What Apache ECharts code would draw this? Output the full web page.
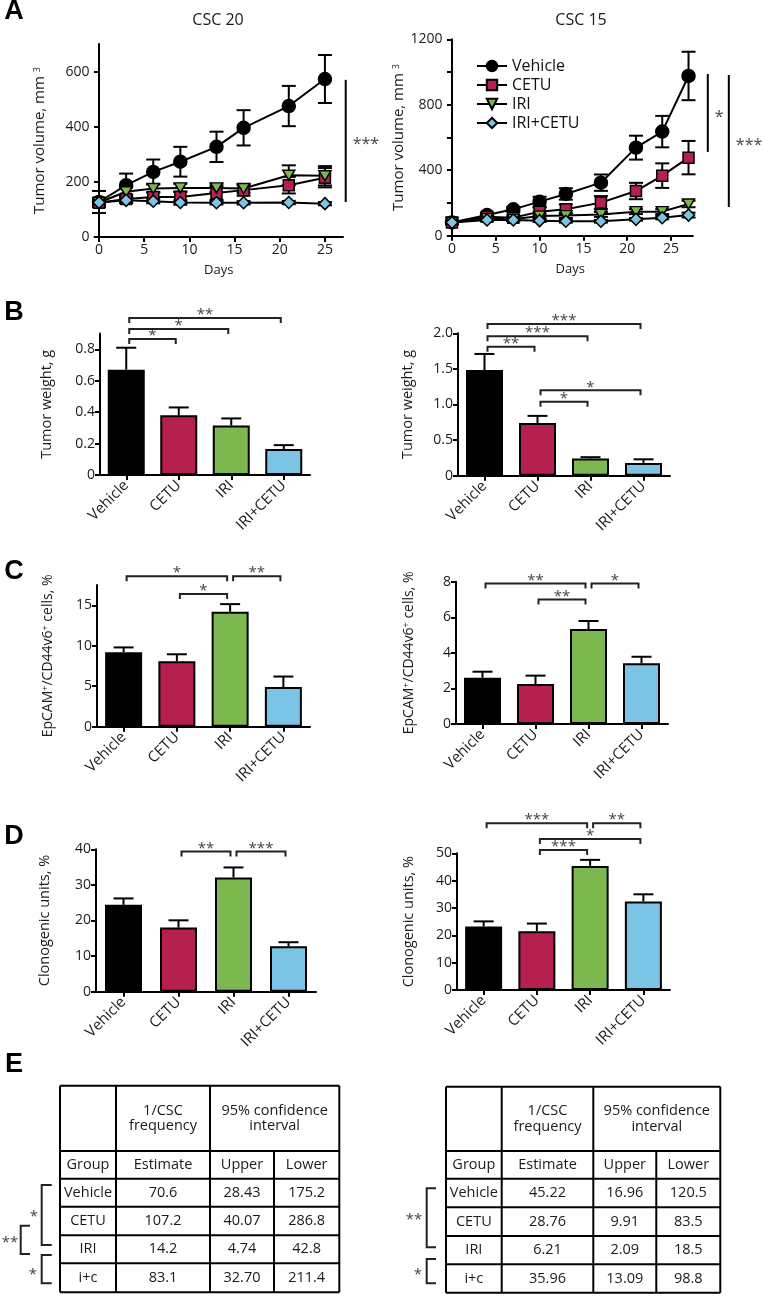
<!DOCTYPE html>
<html><head><meta charset="utf-8">
<script src="https://cdn.jsdelivr.net/npm/echarts@6/dist/echarts.min.js"></script>
<style>html,body{margin:0;padding:0;background:#fff}#c{width:762px;height:1297px}</style>
</head><body><div id="c"></div>
<script>
// ---------- DATA ----------
const groups = ['Vehicle', 'CETU', 'IRI', 'IRI+CETU'];

// Panel A – tumour volume (mm3)
const daysCSC20 = [0, 3, 6, 9, 13, 16, 21, 25];
const volCSC20Vehicle = [127, 188, 236, 273, 327, 396, 475, 573];
const volCSC20Cetu    = [124, 138, 145, 145, 160, 170, 188, 215];
const volCSC20Iri     = [125, 164, 176, 178, 178, 176, 224, 222];
const volCSC20Combo   = [125, 133, 130, 125, 124, 124, 125, 121];
const errCSC20Vehicle = [40, 42, 45, 54, 55, 64, 73, 87];
const errCSC20Cetu    = [15, 15, 18, 20, 25, 20, 30, 35];
const errCSC20Iri     = [10, 15, 15, 15, 15, 15, 36, 35];
const errCSC20Combo   = [8, 8, 8, 8, 6, 6, 6, 6];

const daysCSC15 = [0, 4, 7, 10, 13, 17, 21, 24, 27];
const volCSC15Vehicle = [81, 126, 161, 208, 255, 324, 538, 636, 976];
const volCSC15Cetu    = [81, 116, 110, 147, 161, 202, 273, 367, 477];
const volCSC15Iri     = [81, 105, 100, 120, 123, 130, 147, 147, 194];
const volCSC15Combo   = [81, 96, 96, 92, 88, 88, 100, 110, 126];
const errCSC15Vehicle = [10, 15, 15, 30, 35, 50, 73, 96, 148];
const errCSC15Cetu    = [10, 10, 10, 25, 30, 40, 50, 75, 102];
const errCSC15Iri     = [8, 8, 10, 15, 15, 15, 15, 15, 20];
const errCSC15Combo   = [8, 8, 8, 8, 8, 8, 8, 10, 15];

const sigCSC20 = [[27.3, 127, 570]];            // [day, from, to]
const sigCSC20Labels = ['***'];
const sigCSC15 = [[29.2, 512, 988], [31.6, 175, 982]];
const sigCSC15Labels = ['*', '***'];

// Panel B – tumour weight (g)
const weightCSC20 = [0.67, 0.38, 0.315, 0.165];
const weightErrCSC20 = [0.14, 0.05, 0.045, 0.025];
const weightCSC15 = [1.485, 0.74, 0.24, 0.18];
const weightErrCSC15 = [0.225, 0.10, 0.02, 0.05];
const bracketsB20 = [[0, 1, 0.866], [0, 2, 0.93], [0, 3, 1.0]];
const bracketsB20Labels = ['*', '*', '**'];
const bracketsB15 = [[0, 1, 1.81], [0, 2, 1.96], [0, 3, 2.13], [1, 2, 1.04], [1, 3, 1.2]];
const bracketsB15Labels = ['**', '***', '***', '*', '*'];

// Panel C – EpCAM+/CD44v6+ cells (%)
const epcamCSC20 = [9.2, 8.1, 14.2, 4.9];
const epcamErrCSC20 = [0.6, 0.85, 0.95, 1.3];
const epcamCSC15 = [2.6, 2.25, 5.34, 3.41];
const epcamErrCSC15 = [0.34, 0.47, 0.45, 0.37];
const bracketsC20 = [[0, 2, 18.6], [2, 3, 18.6], [1, 2, 16.4]];
const bracketsC20Labels = ['*', '**', '*'];
const bracketsC15 = [[0, 2, 7.9], [2, 3, 7.9], [1, 2, 7.0]];
const bracketsC15Labels = ['**', '*', '**'];

// Panel D – clonogenic units (%)
const clonoCSC20 = [24.4, 18.0, 32.1, 12.8];
const clonoErrCSC20 = [1.8, 2.05, 2.8, 1.1];
const clonoCSC15 = [23.2, 21.5, 45.4, 32.4];
const clonoErrCSC15 = [1.9, 2.8, 2.2, 2.6];
const bracketsD20 = [[1, 2, 39.4], [2, 3, 39.4]];
const bracketsD20Labels = ['**', '***'];
const bracketsD15 = [[0, 2, 61], [2, 3, 61], [1, 3, 55.2], [1, 2, 51.2]];
const bracketsD15Labels = ['***', '**', '*', '***'];

// Panel E – tables
const tableHeader2 = ['Group', 'Estimate', 'Upper', 'Lower'];
const tableGroups = ['Vehicle', 'CETU', 'IRI', 'i+c'];
const csc20Estimate = ['70.6', '107.2', '14.2', '83.1'];
const csc20Upper = ['28.43', '40.07', '4.74', '32.70'];
const csc20Lower = ['175.2', '286.8', '42.8', '211.4'];
const csc15Estimate = ['45.22', '28.76', '6.21', '35.96'];
const csc15Upper = ['16.96', '9.91', '2.09', '13.09'];
const csc15Lower = ['120.5', '83.5', '18.5', '98.8'];

// ---------- STYLE ----------
const FONT = '"Open Sans", "DejaVu Sans", sans-serif';
const barColors = ['#000000', '#b6204f', '#7cb84e', '#7cc4e6'];
const TXT = '#1a1a1a';
const STAR = '#444';

const grids = [
  {left: 94.5, top: 44, width: 248.5, height: 193},     // A left
  {left: 447.6, top: 39.3, width: 245.3, height: 196.4},// A right
  {left: 100, top: 333.6, width: 210, height: 141.4},   // B left
  {left: 458, top: 333.3, width: 212, height: 142.4},   // B right
  {left: 97, top: 585.1, width: 213, height: 141.6},    // C left
  {left: 456, top: 581.7, width: 212, height: 142.3},   // C right
  {left: 96, top: 849.3, width: 220, height: 142.4},    // D left
  {left: 457, top: 853.3, width: 213, height: 136.7}    // D right
];

const axisLineStyle = {show: true, lineStyle: {color: '#000', width: 2}};
const axisTickStyle = {show: true, length: 5, lineStyle: {color: '#000', width: 2}};

function yAxisCfg(gi, max, ticks, name, gap, nameSize, fmt, tickVals) {
  return {
    type: 'value', gridIndex: gi, min: 0, max: max,
    axisLine: axisLineStyle,
    axisTick: Object.assign({}, axisTickStyle, {customValues: tickVals || ticks}),
    axisLabel: {customValues: ticks, fontSize: 14, color: TXT, fontFamily: FONT, margin: 5,
      formatter: fmt || (v => String(v))},
    splitLine: {show: false},
    name: name, nameLocation: 'middle', nameGap: gap,
    nameTextStyle: {fontSize: nameSize, color: TXT, fontFamily: FONT,
      rich: {s: {fontSize: 9, color: TXT, fontFamily: FONT, verticalAlign: 'top', lineHeight: 12}}}
  };
}
function catAxisCfg(gi) {
  return {
    type: 'category', gridIndex: gi, data: groups,
    axisLine: axisLineStyle,
    axisTick: Object.assign({}, axisTickStyle, {alignWithLabel: true}),
    axisLabel: {rotate: 45, fontSize: 15, color: TXT, fontFamily: FONT, margin: 8, interval: 0},
    splitLine: {show: false}
  };
}
function dayAxisCfg(gi, max) {
  const t = [0, 5, 10, 15, 20, 25];
  return {
    type: 'value', gridIndex: gi, min: -0.5, max: max,
    axisLine: axisLineStyle,
    axisTick: Object.assign({}, axisTickStyle, {customValues: t}),
    axisLabel: {customValues: t, fontSize: 14, color: TXT, fontFamily: FONT, margin: 6},
    splitLine: {show: false},
    name: 'Days', nameLocation: 'middle', nameGap: 27,
    nameTextStyle: {fontSize: 13, color: TXT, fontFamily: FONT}
  };
}
const dec1 = v => (v === 0 ? '0' : v.toFixed(1));

// ---------- RENDERERS ----------
const ls = {stroke: '#000', lineWidth: 2};
function lineErrRender(params, api) {
  const x = api.value(0), y = api.value(1), e = api.value(2);
  const t = api.coord([x, y + e]), b = api.coord([x, y - e]);
  const c = 7;
  return {type: 'group', children: [
    {type: 'line', shape: {x1: t[0], y1: t[1], x2: b[0], y2: b[1]}, style: ls},
    {type: 'line', shape: {x1: t[0] - c, y1: t[1], x2: t[0] + c, y2: t[1]}, style: ls},
    {type: 'line', shape: {x1: b[0] - c, y1: b[1], x2: b[0] + c, y2: b[1]}, style: ls}
  ]};
}
function barErrRender(params, api) {
  const x = api.value(0), y = api.value(1), e = api.value(2);
  const t = api.coord([x, y + e]), b = api.coord([x, y]);
  const c = 10;
  return {type: 'group', children: [
    {type: 'line', shape: {x1: t[0], y1: t[1], x2: b[0], y2: b[1]}, style: ls},
    {type: 'line', shape: {x1: t[0] - c, y1: t[1], x2: t[0] + c, y2: t[1]}, style: ls}
  ]};
}
function txt(text, x, y, size, align, color, weight) {
  return {type: 'text', x: x, y: y, style: {
    text: text, fill: color || TXT, font: (weight || 'normal') + ' ' + size + 'px ' + FONT,
    textAlign: align || 'center', align: align || 'center',
    textVerticalAlign: 'middle', verticalAlign: 'middle', lineHeight: size + 1}};
}
function bracketRender(labels) {
  return function (params, api) {
    const a = api.coord([api.value(0), api.value(2)]);
    const b = api.coord([api.value(1), api.value(2)]);
    const x1 = a[0] + 3, x2 = b[0] - 3, y = a[1];
    return {type: 'group', children: [
      {type: 'polyline', shape: {points: [[x1, y + 5], [x1, y], [x2, y], [x2, y + 5]]},
       style: {stroke: '#222', lineWidth: 2, fill: null}},
      txt(labels[params.dataIndex], (x1 + x2) / 2, y - 3, 15, 'center', STAR)
    ]};
  };
}
function sigRender(labels) {
  return function (params, api) {
    const p1 = api.coord([api.value(0), api.value(1)]);
    const p2 = api.coord([api.value(0), api.value(2)]);
    return {type: 'group', children: [
      {type: 'line', shape: {x1: p1[0], y1: p1[1], x2: p2[0], y2: p2[1]}, style: ls},
      txt(labels[params.dataIndex], p1[0] + 7, (p1[1] + p2[1]) / 2 + 4, 16, 'left', STAR)
    ]};
  };
}

// ---------- SERIES ----------
const series = [];
const lineStyles = [
  {symbol: 'circle', symbolSize: 13, color: '#000'},
  {symbol: 'rect', symbolSize: 11, color: barColors[1]},
  {symbol: 'path://M0,0 L12,0 L6,10 Z', symbolSize: [12, 10], color: barColors[2]},
  {symbol: 'diamond', symbolSize: 12, color: barColors[3]}
];
function addLinePanel(gi, days, vals, errs) {
  vals.forEach((v, k) => {
    series.push({type: 'custom', xAxisIndex: gi, yAxisIndex: gi, z: 1, clip: false,
      renderItem: lineErrRender, data: days.map((d, i) => [d, v[i], errs[k][i]]), silent: true});
  });
  vals.forEach((v, k) => {
    series.push({type: 'line', name: groups[k], xAxisIndex: gi, yAxisIndex: gi, z: 2,
      data: days.map((d, i) => [d, v[i]]),
      symbol: lineStyles[k].symbol, symbolSize: lineStyles[k].symbolSize,
      lineStyle: {color: '#000', width: 2},
      itemStyle: {color: lineStyles[k].color, borderColor: '#000', borderWidth: 1.5},
      emphasis: {disabled: true}, animation: false});
  });
}
addLinePanel(0, daysCSC20, [volCSC20Vehicle, volCSC20Cetu, volCSC20Iri, volCSC20Combo],
  [errCSC20Vehicle, errCSC20Cetu, errCSC20Iri, errCSC20Combo]);
addLinePanel(1, daysCSC15, [volCSC15Vehicle, volCSC15Cetu, volCSC15Iri, volCSC15Combo],
  [errCSC15Vehicle, errCSC15Cetu, errCSC15Iri, errCSC15Combo]);
series.push({type: 'custom', xAxisIndex: 0, yAxisIndex: 0, clip: false, renderItem: sigRender(sigCSC20Labels), data: sigCSC20});
series.push({type: 'custom', xAxisIndex: 1, yAxisIndex: 1, clip: false, renderItem: sigRender(sigCSC15Labels), data: sigCSC15});

function addBarPanel(gi, vals, errs, brackets, labels) {
  series.push({type: 'bar', xAxisIndex: gi, yAxisIndex: gi, barWidth: 37, z: 2,
    data: vals.map((v, i) => ({value: v, itemStyle: {color: barColors[i], borderColor: '#000', borderWidth: 2}})),
    emphasis: {disabled: true}, animation: false});
  series.push({type: 'custom', xAxisIndex: gi, yAxisIndex: gi, z: 1, clip: false,
    renderItem: barErrRender, data: vals.map((v, i) => [i, v, errs[i]])});
  series.push({type: 'custom', xAxisIndex: gi, yAxisIndex: gi, z: 3, clip: false,
    renderItem: bracketRender(labels), data: brackets});
}
addBarPanel(2, weightCSC20, weightErrCSC20, bracketsB20, bracketsB20Labels);
addBarPanel(3, weightCSC15, weightErrCSC15, bracketsB15, bracketsB15Labels);
addBarPanel(4, epcamCSC20, epcamErrCSC20, bracketsC20, bracketsC20Labels);
addBarPanel(5, epcamCSC15, epcamErrCSC15, bracketsC15, bracketsC15Labels);
addBarPanel(6, clonoCSC20, clonoErrCSC20, bracketsD20, bracketsD20Labels);
addBarPanel(7, clonoCSC15, clonoErrCSC15, bracketsD15, bracketsD15Labels);

// ---------- AXES ----------
const volName = 'Tumor volume, mm {s|3}';
const epName = 'EpCAM{s|+}/CD44v6{s|+} cells, %';
const xAxes = [dayAxisCfg(0, 27), dayAxisCfg(1, 27.5),
  catAxisCfg(2), catAxisCfg(3), catAxisCfg(4), catAxisCfg(5), catAxisCfg(6), catAxisCfg(7)];
const yAxes = [
  yAxisCfg(0, 700, [0, 200, 400, 600], volName, 47, 15),
  yAxisCfg(1, 1200, [0, 400, 800, 1200], volName, 40, 15, null, [0, 200, 400, 600, 800, 1000, 1200]),
  yAxisCfg(2, 0.9, [0, 0.2, 0.4, 0.6, 0.8], 'Tumor weight, g', 46, 14.5, dec1),
  yAxisCfg(3, 2, [0, 0.5, 1, 1.5, 2], 'Tumor weight, g', 43, 14.5, dec1),
  yAxisCfg(4, 17.5, [0, 5, 10, 15], epName, 42, 14),
  yAxisCfg(5, 8, [0, 2, 4, 6, 8], epName, 40, 14),
  yAxisCfg(6, 40, [0, 10, 20, 30, 40], 'Clonogenic units, %', 44, 14.5),
  yAxisCfg(7, 50, [0, 10, 20, 30, 40, 50], 'Clonogenic units, %', 41, 14.5)
];

// ---------- TABLES (graphic) ----------
const graphics = [];
function addTable(xs, ys, est, up, low) {
  ys.forEach(y => graphics.push({type: 'line', shape: {x1: xs[0], y1: y, x2: xs[4], y2: y}, style: ls}));
  [0, 1, 2, 4].forEach(i => graphics.push({type: 'line', shape: {x1: xs[i], y1: ys[0], x2: xs[i], y2: ys[6]}, style: ls}));
  graphics.push({type: 'line', shape: {x1: xs[3], y1: ys[1], x2: xs[3], y2: ys[6]}, style: ls});
  const hy = (ys[0] + ys[1]) / 2;
  graphics.push(txt('1/CSC\nfrequency', (xs[1] + xs[2]) / 2, hy, 14.5));
  graphics.push(txt('95% confidence\ninterval', (xs[2] + xs[4]) / 2, hy, 14.5));
  const cx = [0, 1, 2, 3].map(i => (xs[i] + xs[i + 1]) / 2);
  tableHeader2.forEach((t, i) => graphics.push(txt(t, cx[i], (ys[1] + ys[2]) / 2, 14.5)));
  tableGroups.forEach((g, r) => {
    const y = (ys[r + 2] + ys[r + 3]) / 2;
    [g, est[r], up[r], low[r]].forEach((t, i) => graphics.push(txt(t, cx[i], y, 14.5)));
  });
}
addTable([60, 116, 210, 274, 339.3], [1085.7, 1151, 1178.7, 1206.7, 1235.3, 1263.3, 1292.3],
  csc20Estimate, csc20Upper, csc20Lower);
addTable([446, 501.7, 593.3, 656.3, 720.3], [1086.7, 1151, 1178.7, 1207.3, 1236, 1264.3, 1292.7],
  csc15Estimate, csc15Upper, csc15Lower);
function tBracket(x, xt, y1, y2, label, lx, ly) {
  graphics.push({type: 'polyline', shape: {points: [[xt, y1], [x, y1], [x, y2], [xt, y2]]},
    style: {stroke: '#222', lineWidth: 2, fill: null}});
  graphics.push(txt(label, lx, ly, 15, 'center', STAR));
}
tBracket(41.7, 51.7, 1185, 1245, '*', 34, 1217);
tBracket(20.7, 30, 1225.7, 1254, '**', 10, 1243);
tBracket(41.7, 51.7, 1255, 1283.3, '*', 33, 1275);
tBracket(426.7, 436, 1188.3, 1247.3, '**', 414, 1220);
tBracket(426.7, 436, 1259, 1283.3, '*', 418, 1275);

// titles and panel letters
graphics.push(txt('CSC 20', 218, 20, 16));
graphics.push(txt('CSC 15', 581, 20, 16));
[['A', 12], ['B', 313], ['C', 572], ['D', 837], ['E', 1065]].forEach(p =>
  graphics.push({type: 'text', x: 14, y: p[1], style: {text: p[0], fill: '#000',
    font: 'bold 27px "Liberation Sans", Arial, sans-serif', textAlign: 'center', align: 'center',
    textVerticalAlign: 'middle', verticalAlign: 'middle'}}));

// ---------- CHART ----------
const chart = echarts.init(document.getElementById('c'), null, {renderer: 'canvas'});
chart.setOption({
  animation: false,
  backgroundColor: '#fff',
  textStyle: {fontFamily: FONT},
  grid: grids,
  xAxis: xAxes,
  yAxis: yAxes,
  legend: {
    data: groups, orient: 'vertical', left: 471, top: 53,
    itemWidth: 30, itemHeight: 13, itemGap: 3,
    textStyle: {fontSize: 16, color: '#111', fontFamily: FONT, lineHeight: 16},
    selectedMode: false
  },
  series: series,
  graphic: graphics
});
</script>
</body></html>
